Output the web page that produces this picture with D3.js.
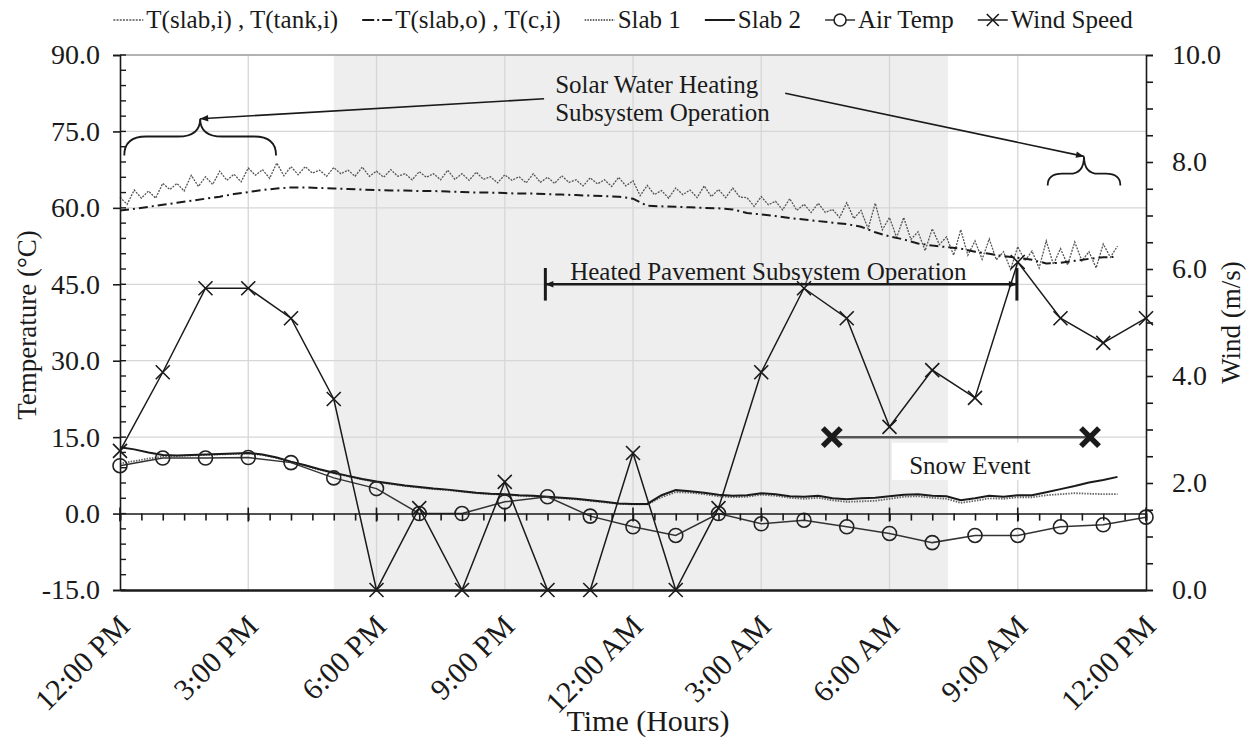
<!DOCTYPE html>
<html><head><meta charset="utf-8">
<script src="https://cdn.jsdelivr.net/npm/d3@7"></script>
<style>
body{margin:0;background:#fff;}
svg{font-family:"Liberation Serif","Times New Roman",serif;}
</style>
</head><body>
<svg id="c" width="1253" height="739"></svg>
<script>
// ---------------- DATA ----------------
const xTickLabels = ["12:00 PM","3:00 PM","6:00 PM","9:00 PM","12:00 AM","3:00 AM","6:00 AM","9:00 AM","12:00 PM"];
const xTickHours = [0,3,6,9,12,15,18,21,24];
const tempTicks = [-15,0,15,30,45,60,75,90];
const windTicks = [0,2,4,6,8,10];
const legendLabels = ["T(slab,i) , T(tank,i)","T(slab,o) , T(c,i)","Slab 1","Slab 2","Air Temp","Wind Speed"];

// hourly observations (12:00 PM .. 12:00 PM)
const airTemp = [9.4,10.9,10.9,11.0,10.0,7.0,4.9,0.0,0.0,2.3,3.3,-0.5,-2.6,-4.3,0.0,-2.0,-1.3,-2.6,-3.9,-5.7,-4.3,-4.3,-2.6,-2.2,-0.7];
const windSpeed = [2.6,4.07,5.64,5.64,5.08,3.57,0,1.53,0,2.02,0,0,2.56,0,1.53,4.07,5.64,5.08,3.05,4.11,3.59,6.13,5.08,4.62,5.08];

// 10-minute record
const tSlabIStep = 1/6;
const tSlabI = [62.1,60.7,63.5,61.9,63.3,61.9,64.8,63.6,64.8,63.3,66.4,64.2,
66.1,64.6,67.2,65.4,66.6,65.1,67.8,66.4,67.5,65.8,68.8,66.3,
68.1,66.5,68.1,66.8,67.4,66.2,67.9,66.7,67.4,66.2,68.0,66.2,
67.2,66.0,67.5,66.2,66.7,65.5,67.1,66.0,66.7,65.5,67.4,65.6,
66.7,65.4,67.0,65.6,66.1,64.9,66.5,65.4,66.1,64.9,66.7,65.0,
66.0,64.8,66.3,65.0,65.5,64.3,65.9,64.7,65.5,64.2,66.0,64.3,
65.3,62.4,64.4,62.6,63.4,61.9,63.9,62.6,63.5,62.0,64.3,62.2,
63.6,62.0,63.9,62.1,62.0,60.3,62.2,60.6,61.3,59.6,61.8,59.5,
60.7,59.1,60.9,59.1,59.7,58.1,61.0,57.9,59.5,55.9,60.9,55.7,
58.1,54.2,58.1,53.8,55.3,51.6,55.9,52.8,54.3,50.7,55.7,50.7,
53.5,49.9,53.9,49.8,51.4,47.9,52.4,49.6,51.5,48.2,53.5,48.9,
52.0,48.8,53.3,49.6,51.4,48.2,52.9,50.3,52.5];

// 20-minute records
const step20 = 1/3;
const tSlabO = [59.5,59.8,60.2,60.6,61.0,61.4,61.8,62.2,62.7,63.1,63.5,63.8,
64.0,64.0,63.9,63.8,63.7,63.6,63.5,63.4,63.4,63.3,63.3,63.2,
63.1,63.0,63.0,62.9,62.8,62.8,62.7,62.6,62.5,62.4,62.3,62.2,
61.8,60.4,60.3,60.2,60.1,60.0,59.9,59.7,59.0,58.7,58.4,58.0,
57.7,57.4,57.1,56.8,56.3,55.2,54.4,53.8,53.0,52.6,52.3,52.0,
51.4,51.0,50.5,50.2,49.8,49.1,49.2,49.6,50.0,50.3,50.4];
const slab1 = [9.8,10.3,10.8,11.2,11.3,11.4,11.5,11.6,11.7,11.8,11.5,10.9,
10.1,9.4,8.6,7.9,7.3,6.7,6.2,5.8,5.4,5.1,4.8,4.6,
4.3,4.0,3.8,3.7,3.5,3.4,3.2,3.0,2.8,2.5,2.2,1.9,
1.8,1.8,3.2,4.2,4.1,3.8,3.4,3.2,3.3,3.7,3.5,3.1,
2.9,3.1,2.6,2.3,2.4,2.5,2.9,3.3,3.4,3.1,2.9,2.1,
2.5,3.0,2.9,3.2,3.2,3.6,3.8,4.0,3.9,3.8,3.8];
const slab2 = [13.0,12.6,12.0,11.5,11.4,11.5,11.6,11.7,11.8,11.9,11.6,11.0,
10.2,9.5,8.7,8.0,7.4,6.8,6.3,5.9,5.5,5.2,4.9,4.7,
4.4,4.1,3.9,3.8,3.6,3.5,3.3,3.1,2.9,2.6,2.3,2.0,
1.9,1.9,3.6,4.6,4.4,4.1,3.7,3.5,3.6,4.0,3.8,3.4,
3.3,3.5,3.0,2.8,3.0,3.1,3.4,3.7,3.8,3.5,3.4,2.6,
3.0,3.5,3.3,3.6,3.6,4.2,4.8,5.4,6.1,6.6,7.2];

// periods / annotations (hours from 12:00 PM, temperature units)
const nightShade = [5.0, 19.37];
const heatedPavement = [9.95, 20.98, 45];
const snowEvent = [16.65, 22.69, 15];
const solarBraceLeft = [0.1, 3.65, 70.3, 74.0, 77.5];
const solarBraceRight = [21.7, 23.4, 64.4, 66.7, 70.1];

// ---------------- CHART ----------------
const svg = d3.select("#c");
const x = d3.scaleLinear().domain([0,24]).range([120,1146]);
const yT = d3.scaleLinear().domain([-15,90]).range([590,55]);
const yW = d3.scaleLinear().domain([0,10]).range([590,55]);
const ink = "#1a1a1a";

const defs = svg.append("defs");
defs.append("marker").attr("id","ah").attr("viewBox","0 0 10 10")
  .attr("refX",10).attr("refY",5).attr("markerWidth",9).attr("markerHeight",8)
  .attr("markerUnits","userSpaceOnUse").attr("orient","auto-start-reverse")
  .append("path").attr("d","M0,1 L10,5 L0,9 z").attr("fill",ink);

// shading
svg.append("rect").attr("x",x(nightShade[0])).attr("y",yT(90))
  .attr("width",x(nightShade[1])-x(nightShade[0])).attr("height",yT(-15)-yT(90))
  .attr("fill","#eeeeee");

// gridlines
const grid = svg.append("g").attr("stroke","#d6d6d6").attr("stroke-width",1.3);
d3.range(3,24,3).forEach(h=>grid.append("line").attr("x1",x(h)).attr("x2",x(h)).attr("y1",yT(90)).attr("y2",yT(-15)));
[15,30,45,60,75].forEach(v=>grid.append("line").attr("x1",x(0)).attr("x2",x(24)).attr("y1",yT(v)).attr("y2",yT(v)));
svg.append("line").attr("x1",x(0)).attr("x2",x(24)).attr("y1",yT(90)).attr("y2",yT(90)).attr("stroke","#999").attr("stroke-width",1.5);

// Snow event white box
svg.append("rect").attr("x",x(18.06)).attr("y",yT(13.9)).attr("width",x(21.75)-x(18.06)).attr("height",yT(6.6)-yT(13.9)).attr("fill","#fff");

// ---------- series ----------
const lineIdx = (arr,step,yS)=> d3.line().x((d,i)=>x(i*step)).y(d=>yS(d))(arr);

svg.append("path").attr("d",lineIdx(tSlabI,tSlabIStep,yT)).attr("fill","none")
  .attr("stroke","#555").attr("stroke-width",1.3).attr("stroke-dasharray","2,1.2");
svg.append("path").attr("d",lineIdx(tSlabO,step20,yT)).attr("fill","none")
  .attr("stroke",ink).attr("stroke-width",2).attr("stroke-dasharray","9,4,2,4");
svg.append("path").attr("d",lineIdx(slab1,step20,yT)).attr("fill","none")
  .attr("stroke","#666").attr("stroke-width",1.8).attr("stroke-dasharray","1.5,1.2");
svg.append("path").attr("d",lineIdx(slab2,step20,yT)).attr("fill","none")
  .attr("stroke",ink).attr("stroke-width",2);

// air temp
svg.append("path").attr("d",lineIdx(airTemp,1,yT)).attr("fill","none").attr("stroke","#333").attr("stroke-width",1.5);
svg.append("g").selectAll("circle").data(airTemp).join("circle")
  .attr("cx",(d,i)=>x(i)).attr("cy",d=>yT(d)).attr("r",7)
  .attr("fill","none").attr("stroke","#222").attr("stroke-width",1.6);

// wind
svg.append("path").attr("d",lineIdx(windSpeed,1,yW)).attr("fill","none").attr("stroke",ink).attr("stroke-width",1.5);
const xMark = (g,cx,cy,s,w)=>g.append("path").attr("d",`M${cx-s},${cy-s}L${cx+s},${cy+s}M${cx-s},${cy+s}L${cx+s},${cy-s}`).attr("stroke",ink).attr("stroke-width",w).attr("fill","none");
const wg = svg.append("g");
windSpeed.forEach((d,i)=>xMark(wg,x(i),yW(d),7,1.6));

// ---------- axes ----------
const fmt = d=>d.toFixed(1);
// left
const gl = svg.append("g").attr("transform",`translate(${x(0)},0)`)
  .call(d3.axisLeft(yT).tickValues(tempTicks).tickFormat(fmt).tickSize(7).tickPadding(13));
gl.selectAll("text").attr("font-size",28).attr("font-family","Liberation Serif").attr("fill",ink);
gl.selectAll("line,path").attr("stroke",ink).attr("stroke-width",1.6);
d3.range(-15,90.1,3).forEach(v=>svg.append("line").attr("x1",x(0)).attr("x2",x(0)+6).attr("y1",yT(v)).attr("y2",yT(v)).attr("stroke",ink).attr("stroke-width",1.4));

// right
const gr = svg.append("g").attr("transform",`translate(${x(24)},0)`)
  .call(d3.axisRight(yW).tickValues(d3.range(0,10.01,0.5)).tickFormat(d=>windTicks.includes(d)?fmt(d):"").tickSize(7).tickPadding(19));
gr.selectAll("text").attr("font-size",28).attr("font-family","Liberation Serif").attr("fill",ink);
gr.selectAll("line,path").attr("stroke",ink).attr("stroke-width",1.6);

// bottom axis (at -15)
const gb = svg.append("g").attr("transform",`translate(0,${yT(-15)})`)
  .call(d3.axisBottom(x).tickValues(xTickHours).tickFormat((d,i)=>xTickLabels[i]).tickSize(0));
gb.select("path").attr("stroke",ink).attr("stroke-width",2.4);
gb.selectAll("text").attr("font-size",30).attr("font-family","Liberation Serif").attr("fill",ink)
  .attr("x",0).attr("y",0).attr("dy",0).attr("text-anchor","end")
  .attr("transform","translate(11,38) rotate(-45)");

// zero line axis
const gz = svg.append("g").attr("transform",`translate(0,${yT(0)})`)
  .call(d3.axisBottom(x).tickValues(d3.range(0,24.01,0.5)).tickFormat("").tickSize(7));
gz.selectAll("line,path").attr("stroke",ink).attr("stroke-width",1.6);
xTickHours.forEach(h=>svg.append("line").attr("x1",x(h)).attr("x2",x(h)).attr("y1",yT(0)-6).attr("y2",yT(0)+8).attr("stroke",ink).attr("stroke-width",1.6));

// axis titles
svg.append("text").attr("transform",`translate(36,${yT(37)}) rotate(-90)`).attr("text-anchor","middle")
  .attr("font-size",27).attr("fill",ink).text("Temperature (°C)");
svg.append("text").attr("transform",`translate(1240,${yW(5)}) rotate(-90)`).attr("text-anchor","middle")
  .attr("font-size",27).attr("fill",ink).text("Wind (m/s)");
svg.append("text").attr("x",648).attr("y",731).attr("text-anchor","middle")
  .attr("font-size",30).attr("fill",ink).text("Time (Hours)");

// ---------- annotations ----------
const ann = svg.append("g").attr("fill",ink);
function brace(b){
  const x1=x(b[0]), x2=x(b[1]), yb=yT(b[2]), ym=yT(b[3]), yt=yT(b[4]), xm=(x1+x2)/2, r=Math.min(22,(x2-x1)/5);
  return `M${x1},${yb} Q${x1},${ym} ${x1+r},${ym} L${xm-r},${ym} Q${xm},${ym} ${xm},${yt} Q${xm},${ym} ${xm+r},${ym} L${x2-r},${ym} Q${x2},${ym} ${x2},${yb}`;
}
[solarBraceLeft,solarBraceRight].forEach(b=>svg.append("path").attr("d",brace(b)).attr("fill","none").attr("stroke",ink).attr("stroke-width",1.8));
svg.append("line").attr("x1",x(9.92)).attr("y1",yT(81.4)).attr("x2",x((solarBraceLeft[0]+solarBraceLeft[1])/2)).attr("y2",yT(solarBraceLeft[4]))
  .attr("stroke",ink).attr("stroke-width",1.6).attr("marker-end","url(#ah)");
svg.append("line").attr("x1",x(15.56)).attr("y1",yT(82.5)).attr("x2",x((solarBraceRight[0]+solarBraceRight[1])/2)).attr("y2",yT(solarBraceRight[4]))
  .attr("stroke",ink).attr("stroke-width",1.6).attr("marker-end","url(#ah)");
ann.append("text").attr("x",x(10.18)).attr("y",yT(82.6)).attr("font-size",25).text("Solar Water Heating");
ann.append("text").attr("x",x(10.18)).attr("y",yT(77.1)).attr("font-size",25).text("Subsystem Operation");

// Heated pavement
svg.append("line").attr("x1",x(heatedPavement[0])).attr("x2",x(heatedPavement[1])).attr("y1",yT(heatedPavement[2])).attr("y2",yT(heatedPavement[2]))
  .attr("stroke",ink).attr("stroke-width",2.4).attr("marker-start","url(#ah)").attr("marker-end","url(#ah)");
[heatedPavement[0],heatedPavement[1]].forEach(h=>svg.append("line").attr("x1",x(h)).attr("x2",x(h)).attr("y1",yT(heatedPavement[2]+3.2)).attr("y2",yT(heatedPavement[2]-3.2)).attr("stroke",ink).attr("stroke-width",3));
ann.append("text").attr("x",x(10.53)).attr("y",yT(45.9)).attr("font-size",25).text("Heated Pavement Subsystem Operation");

// Snow event
svg.append("line").attr("x1",x(snowEvent[0])).attr("x2",x(snowEvent[1])).attr("y1",yT(snowEvent[2])).attr("y2",yT(snowEvent[2])).attr("stroke","#555").attr("stroke-width",2.5);
[snowEvent[0],snowEvent[1]].forEach(h=>xMark(svg,x(h),yT(snowEvent[2]),9,5.5));
ann.append("text").attr("x",x(18.46)).attr("y",yT(7.8)).attr("font-size",25).text("Snow Event");

// ---------- legend ----------
const lg = svg.append("g").attr("transform","translate(0,20)");
const symW = 30, gapIn = 3, gapOut = 24;
const items = legendLabels.map((t,i)=>{
  const g = lg.append("g");
  const tx = g.append("text").attr("x",symW+gapIn).attr("y",8).attr("font-size",25).attr("fill",ink).text(t);
  return {g, w: symW+gapIn+tx.node().getComputedTextLength(), i};
});
const total = d3.sum(items,d=>d.w)+gapOut*(items.length-1);
let cx = 623 - total/2;
items.forEach(it=>{
  it.g.attr("transform",`translate(${cx},0)`);
  const g = it.g;
  const ln = g.append("line").attr("x1",0).attr("x2",symW).attr("y1",0).attr("y2",0).attr("fill","none");
  if(it.i===0) ln.attr("stroke","#555").attr("stroke-width",1.3).attr("stroke-dasharray","2,1.2");
  if(it.i===1) ln.attr("stroke",ink).attr("stroke-width",2).attr("stroke-dasharray","12,3,2,3");
  if(it.i===2) ln.attr("stroke","#666").attr("stroke-width",1.8).attr("stroke-dasharray","1.5,1.2");
  if(it.i===3) ln.attr("stroke",ink).attr("stroke-width",2);
  if(it.i===4){ ln.attr("stroke","#333").attr("stroke-width",1.5); g.append("circle").attr("cx",symW/2).attr("cy",0).attr("r",6).attr("fill","#fff").attr("stroke","#222").attr("stroke-width",1.6); }
  if(it.i===5){ ln.attr("stroke",ink).attr("stroke-width",1.5); xMark(g,symW/2,0,6,1.6); }
  cx += it.w + gapOut;
});
</script>
</body></html>
